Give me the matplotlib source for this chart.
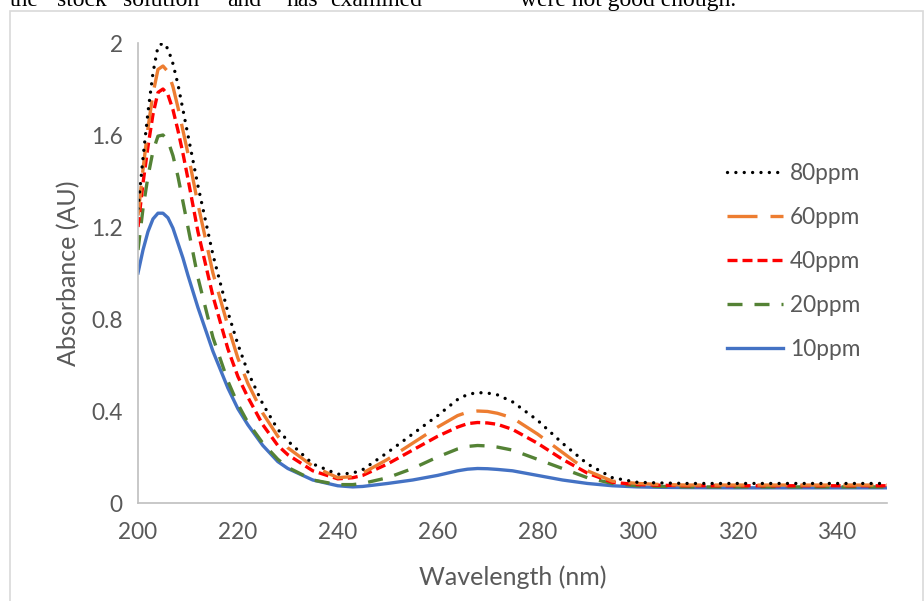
import matplotlib
matplotlib.use("Agg")
import matplotlib.pyplot as plt
from matplotlib.patches import Rectangle

wavelength = [200, 201, 202, 203, 204, 205, 206, 207, 208, 209, 210, 212, 215, 218, 220, 222, 225, 228, 230,
              235, 240, 243, 245, 250, 255, 260, 264, 266, 268, 270, 272, 275, 280, 285, 290, 295,
              300, 305, 310, 320, 330, 340, 350]

ppm10 = [1.00, 1.10, 1.18, 1.235, 1.26, 1.26, 1.24, 1.195, 1.13, 1.065, 0.99, 0.85, 0.66, 0.50, 0.41, 0.34, 0.25, 0.18, 0.15,
         0.10, 0.075, 0.07, 0.072, 0.085, 0.10, 0.12, 0.14, 0.147, 0.15, 0.149, 0.146, 0.14, 0.12, 0.10, 0.085, 0.075,
         0.07, 0.068, 0.067, 0.066, 0.066, 0.066, 0.066]
ppm20 = [1.10, 1.28, 1.42, 1.53, 1.595, 1.60, 1.575, 1.51, 1.42, 1.31, 1.20, 0.98, 0.72, 0.53, 0.43, 0.35, 0.26, 0.19, 0.155,
         0.10, 0.08, 0.08, 0.085, 0.11, 0.15, 0.20, 0.235, 0.246, 0.25, 0.248, 0.243, 0.23, 0.19, 0.15, 0.11, 0.085,
         0.075, 0.072, 0.07, 0.07, 0.07, 0.07, 0.07]
ppm40 = [1.20, 1.39, 1.55, 1.69, 1.785, 1.80, 1.775, 1.71, 1.62, 1.52, 1.41, 1.18, 0.90, 0.67, 0.55, 0.46, 0.34, 0.25, 0.21,
         0.14, 0.105, 0.11, 0.12, 0.17, 0.23, 0.29, 0.33, 0.345, 0.35, 0.348, 0.342, 0.32, 0.26, 0.19, 0.13, 0.09,
         0.08, 0.077, 0.075, 0.075, 0.075, 0.075, 0.075]
ppm60 = [1.25, 1.45, 1.63, 1.78, 1.885, 1.90, 1.875, 1.81, 1.72, 1.62, 1.52, 1.30, 1.00, 0.77, 0.63, 0.52, 0.39, 0.29, 0.24,
         0.16, 0.11, 0.115, 0.13, 0.19, 0.26, 0.33, 0.38, 0.395, 0.40, 0.398, 0.39, 0.37, 0.30, 0.22, 0.14, 0.095,
         0.085, 0.08, 0.078, 0.078, 0.078, 0.078, 0.078]
ppm80 = [1.28, 1.50, 1.70, 1.87, 1.985, 2.00, 1.975, 1.91, 1.82, 1.71, 1.60, 1.38, 1.08, 0.83, 0.69, 0.57, 0.43, 0.32, 0.27,
         0.17, 0.125, 0.13, 0.145, 0.22, 0.30, 0.38, 0.45, 0.472, 0.48, 0.478, 0.47, 0.44, 0.36, 0.26, 0.17, 0.11,
         0.09, 0.087, 0.085, 0.085, 0.085, 0.085, 0.085]

labels = ["10ppm", "20ppm", "40ppm", "60ppm", "80ppm"]
x_ticks = [200, 220, 240, 260, 280, 300, 320, 340]
y_ticks = [0, 0.4, 0.8, 1.2, 1.6, 2.0]
y_ticklabels = ["0", "0.4", "0.8", "1.2", "1.6", "2"]

W, H = 924, 601
fig = plt.figure(figsize=(W / 100, H / 100), dpi=100)
FONT = "Lato"
TXT = "#595959"

# chart frame
fig.patches.append(Rectangle((10 / W, -0.01), (913) / W, 1 - 11 / H + 0.01,
                             transform=fig.transFigure, fill=False,
                             edgecolor="#d9d9d9", linewidth=1.2))

# clipped document text above chart
serif = "Liberation Serif"
words = [("the", 10), ("stock", 57), ("solution", 123), ("and", 227), ("has", 287), ("examined", 330)]
for w, xp in words:
    fig.text(xp / W, 1 - 6 / H, w, fontsize=17, family=serif, ha="left", va="baseline", color="#000000")
fig.text(520 / W, 1 - 6 / H, "were not good enough.", fontsize=17, family=serif,
         ha="left", va="baseline", color="#000000")

ax = fig.add_axes([138 / W, 1 - 503 / H, (887 - 138) / W, (503 - 43) / H])

lw = 2.4
styles = {
    "10ppm": dict(color="#4472C4", linestyle="-"),
    "20ppm": dict(color="#548235", linestyle=(0, (4.5, 3.6))),
    "40ppm": dict(color="#FF0000", linestyle=(0, (3.0, 1.5))),
    "60ppm": dict(color="#ED7D31", linestyle=(0, (9.0, 3.9))),
    "80ppm": dict(color="#000000", linestyle=(0, (0.01, 2.5)), dash_capstyle="round"),
}
series = [ppm10, ppm20, ppm40, ppm60, ppm80]
handles = {}
for lab, ys in zip(labels, series):
    (ln,) = ax.plot(wavelength, ys, lw=lw, label=lab, **styles[lab])
    handles[lab] = ln

ax.set_xlim(200, 350)
ax.set_ylim(0, 2)
ax.set_xticks(x_ticks)
ax.set_yticks(y_ticks)
ax.set_yticklabels(y_ticklabels)
for s in ["top", "right"]:
    ax.spines[s].set_visible(False)
for s in ["left", "bottom"]:
    ax.spines[s].set_color("#bfbfbf")
    ax.spines[s].set_linewidth(1.2)
ax.tick_params(axis="both", length=0, labelsize=16.3, labelcolor=TXT)
ax.tick_params(axis="x", pad=14)
ax.tick_params(axis="y", pad=11)
for t in ax.get_xticklabels() + ax.get_yticklabels():
    t.set_family(FONT)

ax.set_xlabel("Wavelength (nm)", fontsize=18, color=TXT, family=FONT, labelpad=15.5)
ax.set_ylabel("Absorbance (AU)", fontsize=18, color=TXT, family=FONT, labelpad=8)

order = ["80ppm", "60ppm", "40ppm", "20ppm", "10ppm"]
leg = ax.legend([handles[k] for k in order], order, loc="upper left",
                bbox_to_anchor=((727 - 138) / (887 - 138), 1 - (163 - 43) / (503 - 43)),
                frameon=False, handlelength=2.48, handletextpad=0.31, labelspacing=1.02,
                prop={"family": FONT, "size": 16.3}, borderpad=0, borderaxespad=0)
for t in leg.get_texts():
    t.set_color(TXT)

fig.savefig("out.png", dpi=100)
